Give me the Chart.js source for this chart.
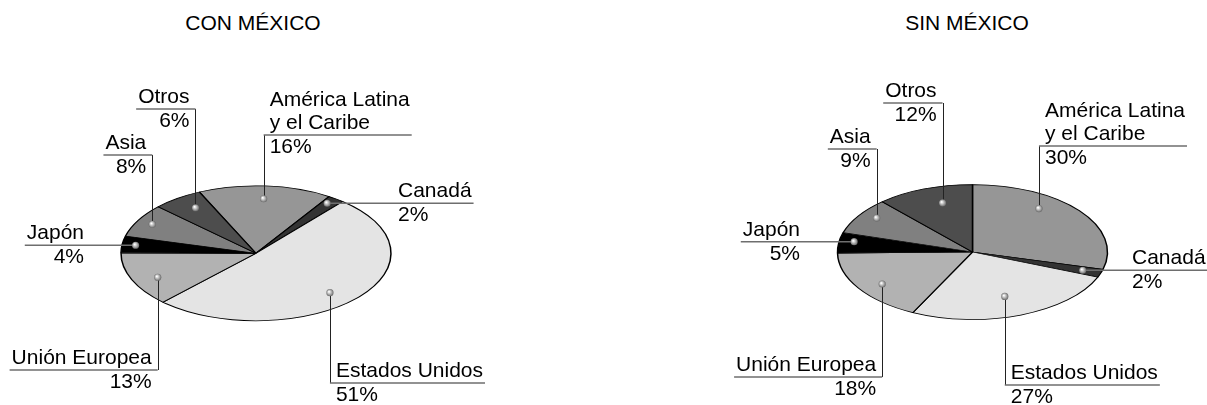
<!DOCTYPE html>
<html>
<head>
<meta charset="utf-8">
<title>Con y sin México</title>
<script src="https://cdn.jsdelivr.net/npm/chart.js@4.4.0/dist/chart.umd.min.js"></script>
<style>
    body { margin: 0; background: #fff; }
    #marco { position: relative; width: 1207px; height: 405px; overflow: hidden; }
    canvas { position: absolute; top: 0; }
    .titulo { position: absolute; top: 12px; font: 21px "Liberation Sans", Arial, sans-serif; line-height: 21px; color: #000; transform: translateX(-50%); white-space: nowrap; }
</style>
</head>
<body>
<div id="marco">
    <div class="titulo" style="left:253px">CON MÉXICO</div>
    <div class="titulo" style="left:967px">SIN MÉXICO</div>
    <canvas id="tortaCon" width="603" height="405" style="left:0"></canvas>
    <canvas id="tortaSin" width="604" height="405" style="left:603px"></canvas>
</div>
<script>
    // datos (porcentajes)
    const categorias = ['América Latina\ny el Caribe', 'Canadá', 'Estados Unidos', 'Unión Europea', 'Japón', 'Asia', 'Otros'];
    const conMexico = [16, 2, 51, 13, 4, 8, 6];
    const sinMexico = [30, 2, 27, 18, 5, 9, 12];

    const colores = ['#969696', '#333333', '#e4e4e4', '#b2b2b2', '#000000', '#808080', '#4d4d4d'];
    const ESCALA_Y = 0.5; // pastel inclinado -> elipse
    const FUENTE = '21px "Liberation Sans", Arial, sans-serif';

    // ubicacion de las etiquetas (lado, altura del subrayado o x del texto si va horizontal)
    const etiquetasCon = [
        {lado: 'der', uy: 135, r: 0.81},
        {lado: 'der', tx: 398, r: 0.91, da: -1},
        {lado: 'der', uy: 383, r: 0.80, da: 5},
        {lado: 'izq', uy: 370, r: 0.81, da: -3},
        {lado: 'izq', tx: 84, r: 0.90},
        {lado: 'izq', uy: 155, r: 0.88},
        {lado: 'izq', uy: 109, r: 0.81, da: 2}
    ];
    const etiquetasSin = [
        {lado: 'der', uy: 146, r: 0.81, da: -15},
        {lado: 'der', tx: 529, r: 0.86},
        {lado: 'der', uy: 385, r: 0.70, da: 1},
        {lado: 'izq', uy: 377, r: 0.82, da: -3},
        {lado: 'izq', tx: 197, r: 0.89, da: 2},
        {lado: 'izq', uy: 149, r: 0.87, da: 3},
        {lado: 'izq', uy: 103, r: 0.76, da: 4}
    ];

    const elipse = {
        id: 'elipse',
        beforeDatasetsDraw(chart) {
            const arc = chart.getDatasetMeta(0).data[0];
            const ctx = chart.ctx;
            ctx.save();
            ctx.translate(arc.x, arc.y);
            ctx.scale(1, ESCALA_Y);
            ctx.translate(-arc.x, -arc.y);
        },
        afterDatasetsDraw(chart) {
            chart.ctx.restore();
        }
    };

    function bolita(ctx, x, y) {
        const g = ctx.createRadialGradient(x - 1, y - 1, 0.3, x, y, 4);
        g.addColorStop(0, '#ffffff');
        g.addColorStop(0.5, '#b0b0b0');
        g.addColorStop(1, '#5a5a5a');
        ctx.beginPath();
        ctx.arc(x, y, 3.6, 0, Math.PI * 2);
        ctx.fillStyle = g;
        ctx.fill();
    }

    function etiquetador(valores, etiquetas) {
        return {
            id: 'etiquetas',
            afterDraw(chart) {
                const ctx = chart.ctx;
                const meta = chart.getDatasetMeta(0);
                ctx.save();
                ctx.font = FUENTE;
                meta.data.forEach((arc, i) => {
                    const e = etiquetas[i];
                    const a = (arc.startAngle + arc.endAngle) / 2 + (e.da || 0) * Math.PI / 180;
                    const mx = arc.x + arc.outerRadius * e.r * Math.cos(a);
                    const my = arc.y + arc.outerRadius * e.r * Math.sin(a) * ESCALA_Y;
                    const lineas = categorias[i].split('\n');
                    const valor = valores[i] + '%';
                    const ancho = Math.max(...lineas.map(t => ctx.measureText(t).width), ctx.measureText(valor).width);

                    let uy, tx;
                    if (e.uy == null) { uy = my; tx = e.tx; }
                    else { uy = e.uy; tx = e.lado == 'der' ? mx + 6 : mx - 6; }

                    let x0, x1;
                    if (e.lado == 'der') { x0 = mx; x1 = tx + ancho + 2; }
                    else { x0 = tx - ancho - 2; x1 = mx; }

                    const vx = Math.round(mx) + 0.5;
                    // linea vertical
                    if (e.uy != null) {
                        ctx.beginPath();
                        ctx.moveTo(vx, my);
                        ctx.lineTo(vx, uy);
                        ctx.strokeStyle = '#222';
                        ctx.lineWidth = 1;
                        ctx.stroke();
                    }
                    // subrayado
                    ctx.beginPath();
                    ctx.moveTo(x0, uy);
                    ctx.lineTo(x1, uy);
                    ctx.strokeStyle = '#6e6e6e';
                    ctx.lineWidth = 1.5;
                    ctx.stroke();

                    ctx.fillStyle = '#000';
                    ctx.textBaseline = 'alphabetic';
                    ctx.textAlign = e.lado == 'der' ? 'left' : 'right';
                    lineas.forEach((t, k) => {
                        ctx.fillText(t, tx, uy - 6 - (lineas.length - 1 - k) * 23);
                    });
                    ctx.fillText(valor, tx, uy + 18);

                    bolita(ctx, mx, my);
                });
                ctx.restore();
            }
        };
    }

    function hacerTorta(id, valores, rotacion, relleno, etiquetas) {
        const ctx = document.getElementById(id).getContext('2d');
        return new Chart(ctx, {
            type: 'pie',
            data: {
                labels: categorias,
                datasets: [{
                    data: valores,
                    backgroundColor: colores,
                    borderColor: '#000',
                    borderWidth: 1.5,
                    radius: 135,
                    clip: false
                }]
            },
            options: {
                responsive: false,
                animation: false,
                rotation: rotacion,
                layout: { padding: relleno },
                plugins: {
                    legend: { display: false },
                    tooltip: { enabled: false }
                }
            },
            plugins: [elipse, etiquetador(valores, etiquetas)]
        });
    }

    hacerTorta('tortaCon', conMexico, -24.8, {left: 0, right: 91, top: 101.6, bottom: 0}, etiquetasCon);
    hacerTorta('tortaSin', sinMexico, 0, {left: 135, right: 0, top: 99, bottom: 0}, etiquetasSin);
</script>
</body>
</html>
